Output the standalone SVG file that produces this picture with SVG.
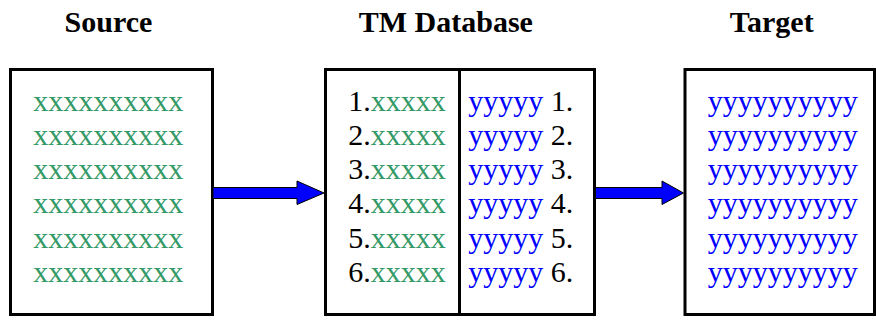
<svg xmlns="http://www.w3.org/2000/svg" width="876" height="320" viewBox="0 0 876 320" font-family="'Liberation Serif', serif">
<style>
.box{fill:#fff;stroke:#000;stroke-width:3}
.div{stroke:#000;stroke-width:3}
.title{font-size:30px;font-weight:bold;fill:#000;text-anchor:middle}
.t{font-size:30px;fill:#000}
.g{fill:#339966}
.b{fill:#0000ff}
.arrow{fill:#0000ff;stroke:#000;stroke-width:1}
</style>
<rect width="876" height="320" fill="#fff"/>
<g id="source" font-family="'Liberation Serif', serif">
<text class="title" x="108.5" y="32" font-family="'Liberation Serif', serif">Source</text>
<rect class="box" x="10.5" y="69.5" width="202" height="245"/>
<text class="t g" x="33.3" y="110.7" font-family="'Liberation Serif', serif">xxxxxxxxxx</text>
<text class="t g" x="33.3" y="144.9" font-family="'Liberation Serif', serif">xxxxxxxxxx</text>
<text class="t g" x="33.3" y="179.1" font-family="'Liberation Serif', serif">xxxxxxxxxx</text>
<text class="t g" x="33.3" y="213.3" font-family="'Liberation Serif', serif">xxxxxxxxxx</text>
<text class="t g" x="33.3" y="247.5" font-family="'Liberation Serif', serif">xxxxxxxxxx</text>
<text class="t g" x="33.3" y="281.7" font-family="'Liberation Serif', serif">xxxxxxxxxx</text>
</g>
<g id="tm-database" font-family="'Liberation Serif', serif">
<text class="title" x="445.8" y="32" font-family="'Liberation Serif', serif">TM Database</text>
<rect class="box" x="325.5" y="69.5" width="269" height="245"/>
<line class="div" x1="459.5" y1="69.5" x2="459.5" y2="314.5"/>
<text class="t" x="348.3" y="110.7" font-family="'Liberation Serif', serif">1.<tspan class="g">xxxxx</tspan></text>
<text class="t" x="348.3" y="144.9" font-family="'Liberation Serif', serif">2.<tspan class="g">xxxxx</tspan></text>
<text class="t" x="348.3" y="179.1" font-family="'Liberation Serif', serif">3.<tspan class="g">xxxxx</tspan></text>
<text class="t" x="348.3" y="213.3" font-family="'Liberation Serif', serif">4.<tspan class="g">xxxxx</tspan></text>
<text class="t" x="348.3" y="247.5" font-family="'Liberation Serif', serif">5.<tspan class="g">xxxxx</tspan></text>
<text class="t" x="348.3" y="281.7" font-family="'Liberation Serif', serif">6.<tspan class="g">xxxxx</tspan></text>
<text class="t" x="468.3" y="110.7" font-family="'Liberation Serif', serif"><tspan class="b">yyyyy</tspan> 1.</text>
<text class="t" x="468.3" y="144.9" font-family="'Liberation Serif', serif"><tspan class="b">yyyyy</tspan> 2.</text>
<text class="t" x="468.3" y="179.1" font-family="'Liberation Serif', serif"><tspan class="b">yyyyy</tspan> 3.</text>
<text class="t" x="468.3" y="213.3" font-family="'Liberation Serif', serif"><tspan class="b">yyyyy</tspan> 4.</text>
<text class="t" x="468.3" y="247.5" font-family="'Liberation Serif', serif"><tspan class="b">yyyyy</tspan> 5.</text>
<text class="t" x="468.3" y="281.7" font-family="'Liberation Serif', serif"><tspan class="b">yyyyy</tspan> 6.</text>
</g>
<g id="target" font-family="'Liberation Serif', serif">
<text class="title" x="771.7" y="32" font-family="'Liberation Serif', serif">Target</text>
<rect class="box" x="685" y="69.5" width="189.5" height="245"/>
<text class="t b" x="707.7" y="110.7" font-family="'Liberation Serif', serif">yyyyyyyyyy</text>
<text class="t b" x="707.7" y="144.9" font-family="'Liberation Serif', serif">yyyyyyyyyy</text>
<text class="t b" x="707.7" y="179.1" font-family="'Liberation Serif', serif">yyyyyyyyyy</text>
<text class="t b" x="707.7" y="213.3" font-family="'Liberation Serif', serif">yyyyyyyyyy</text>
<text class="t b" x="707.7" y="247.5" font-family="'Liberation Serif', serif">yyyyyyyyyy</text>
<text class="t b" x="707.7" y="281.7" font-family="'Liberation Serif', serif">yyyyyyyyyy</text>
</g>
<g id="connectors">
<polygon class="arrow" points="213,187.5 297,187.5 297,181 324,193 297,204.5 297,198.5 213,198.5"/>
<polygon class="arrow" points="595.5,187.5 662,187.5 662,181 683.5,193 662,204.5 662,198.5 595.5,198.5"/>
</g>
</svg>
